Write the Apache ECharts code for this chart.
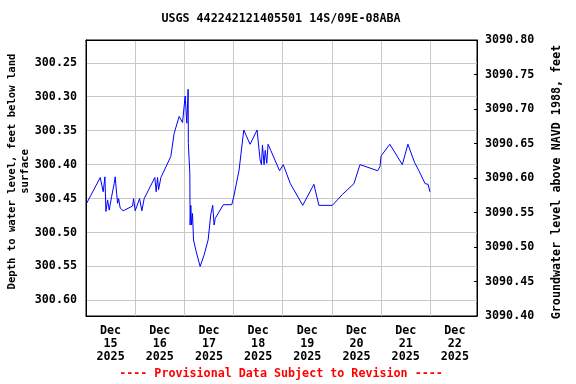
<!DOCTYPE html>
<html>
<head>
<meta charset="utf-8">
<script src="https://cdn.jsdelivr.net/npm/echarts@6/dist/echarts.min.js"></script>
<style>html,body{margin:0;padding:0;background:#fff}#c{width:576px;height:384px}</style>
</head>
<body>
<div id="c"></div>
<script>
// hours since 2025-12-15 00:00
const hours = [0.31, 6.94, 8.40, 9.23, 9.72, 10.54, 11.33, 12.50, 13.76, 14.25, 14.93, 15.42, 15.91, 16.69, 18.15, 22.73, 23.22, 24.00, 26.15, 27.27, 28.39, 33.60, 34.24, 34.92, 35.41, 36.53, 41.40, 43.01, 45.45, 47.11, 48.38, 49.20, 49.20, 49.84, 49.94, 50.33, 50.67, 50.81, 51.15, 51.50, 51.98, 52.47, 53.59, 55.69, 57.64, 59.59, 60.91, 61.83, 62.51, 63.10, 67.00, 71.14, 72.26, 74.70, 76.99, 80.06, 83.48, 84.94, 85.62, 86.11, 86.89, 87.47, 88.21, 88.84, 90.16, 94.45, 96.25, 99.71, 105.76, 111.22, 113.65, 120.23, 125.11, 130.77, 133.69, 135.64, 142.32, 143.05, 143.44, 144.03, 148.27, 154.36, 157.09, 160.36, 162.45, 165.48, 166.94, 167.82];
// depth to water level, feet below land surface
const depth = [300.457, 300.419, 300.440, 300.418, 300.469, 300.452, 300.467, 300.447, 300.428, 300.418, 300.442, 300.457, 300.450, 300.464, 300.468, 300.461, 300.450, 300.468, 300.450, 300.468, 300.450, 300.419, 300.440, 300.419, 300.437, 300.419, 300.388, 300.354, 300.329, 300.338, 300.299, 300.299, 300.339, 300.289, 300.369, 300.371, 300.413, 300.489, 300.460, 300.489, 300.472, 300.511, 300.526, 300.550, 300.533, 300.511, 300.473, 300.460, 300.489, 300.479, 300.459, 300.459, 300.445, 300.408, 300.349, 300.370, 300.349, 300.393, 300.400, 300.371, 300.400, 300.379, 300.398, 300.370, 300.379, 300.409, 300.400, 300.428, 300.460, 300.429, 300.460, 300.460, 300.444, 300.428, 300.400, 300.402, 300.409, 300.410, 300.403, 300.387, 300.370, 300.400, 300.370, 300.397, 300.409, 300.428, 300.429, 300.440];
const dayLabels = ['15', '16', '17', '18', '19', '20', '21', '22'];
const monthLabel = 'Dec';
const yearLabel = '2025';
const titleText = 'USGS 442242121405501 14S/09E-08ABA';
const footerText = '---- Provisional Data Subject to Revision ----';
const leftName = 'Depth to water level, feet below land\nsurface';
const rightName = 'Groundwater level above NAVD 1988, feet';

const FONT = 'DejaVu Sans Mono';
const FS = 11.7;
const xMax = 190.8;

const data = hours.map((h, i) => [h, depth[i]]);

const chart = echarts.init(document.getElementById('c'), null, {renderer: 'canvas'});
chart.setOption({
  animation: false,
  backgroundColor: '#fff',
  title: [
    {text: titleText, left: 281, top: 13, padding: 0, textAlign: 'center',
     textStyle: {fontFamily: FONT, fontSize: FS, fontWeight: 'bold', color: '#000'}},
    {text: footerText, left: 281, top: 368, padding: 0, textAlign: 'center',
     textStyle: {fontFamily: FONT, fontSize: FS, fontWeight: 'bold', color: '#ff0000'}}
  ],
  grid: {left: 86, right: 99, top: 40, bottom: 68, show: true, borderColor: '#000', borderWidth: 1, backgroundColor: '#fff',
         containLabel: false, outerBoundsMode: 'none'},
  xAxis: [
    {type: 'value', position: 'bottom', min: 0, max: xMax, interval: 12,
     axisLine: {show: true, onZero: false, lineStyle: {color: '#000', width: 1}},
     axisTick: {show: false}, splitLine: {show: false},
     axisLabel: {margin: 9, fontFamily: FONT, fontSize: FS, fontWeight: 'bold', color: '#000', lineHeight: 12.8,
       showMinLabel: true, showMaxLabel: true, hideOverlap: false,
       formatter: v => { if (Math.round(v) % 24 === 12) { const i = Math.floor(v / 24); return monthLabel + '\n' + dayLabels[i] + '\n' + yearLabel; } return ''; }}},
    {type: 'value', position: 'top', min: 0, max: xMax, interval: 24,
     axisLine: {show: true, onZero: false, lineStyle: {color: '#000', width: 1}},
     axisTick: {show: false}, axisLabel: {show: false},
     splitLine: {show: true, showMinLine: false, showMaxLine: false, lineStyle: {color: '#c8c8c8', width: 1}}}
  ],
  yAxis: [
    {type: 'value', position: 'left', inverse: true, min: 300.2164, max: 300.623, minInterval: 0.05, maxInterval: 0.05, splitNumber: 8,
     axisLine: {show: true, onZero: false, lineStyle: {color: '#000', width: 1}},
     axisTick: {show: false},
     splitLine: {show: true, showMinLine: false, showMaxLine: false, lineStyle: {color: '#c8c8c8', width: 1}},
     axisLabel: {margin: 9, fontFamily: FONT, fontSize: FS, fontWeight: 'bold', color: '#000',
       showMinLabel: false, showMaxLabel: false, formatter: v => v.toFixed(2)},
     name: leftName, nameLocation: 'middle', nameGap: 55, nameMoveOverlap: false,
     nameTextStyle: {fontFamily: FONT, fontSize: 10.6, fontWeight: 'bold', color: '#000', lineHeight: 12.5, align: 'center', padding: [0, 0, 0, 13]}},
    {type: 'value', position: 'right', min: 3090.40, max: 3090.80, interval: 0.05,
     axisLine: {show: true, onZero: false, lineStyle: {color: '#000', width: 1}},
     axisTick: {show: true, inside: true, length: 3, lineStyle: {color: '#000'}},
     splitLine: {show: false},
     axisLabel: {margin: 8, fontFamily: FONT, fontSize: FS, fontWeight: 'bold', color: '#000', formatter: v => v.toFixed(2)},
     name: rightName, nameLocation: 'middle', nameGap: 74, nameMoveOverlap: false,
     nameTextStyle: {fontFamily: FONT, fontSize: FS, fontWeight: 'bold', color: '#000', padding: [0, 8, 0, 0]}}
  ],
  series: [{
    type: 'line', xAxisIndex: 0, yAxisIndex: 0, data: data,
    showSymbol: false, symbol: 'none',
    lineStyle: {color: '#0000ff', width: 1}, itemStyle: {color: '#0000ff'}
  }]
});
</script>
</body>
</html>
